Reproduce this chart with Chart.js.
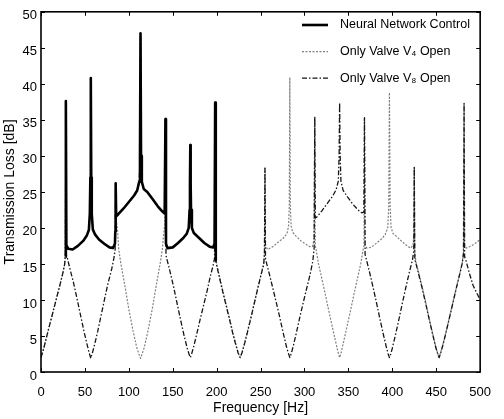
<!DOCTYPE html>
<html>
<head>
<meta charset="utf-8">
<script src="https://cdn.jsdelivr.net/npm/chart.js@4.4.0/dist/chart.umd.min.js"></script>
<style>
  html, body { margin: 0; padding: 0; background: #fff; }
  #wrap { position: relative; width: 504px; height: 419px; }
</style>
</head>
<body>
<div id="wrap"><canvas id="tlChart"></canvas></div>
<script>
// values (frequency in Hz, transmission loss in dB)
const freqTicks = [0, 50, 100, 150, 200, 250, 300, 350, 400, 450, 500];
const tlTicks = [0, 5, 10, 15, 20, 25, 30, 35, 40, 45, 50];

const nnFreq = [28, 28.3, 28.9, 31, 36, 42, 48, 52, 54.5, 55.6, 56.2, 56.7, 57.2, 57.8, 59, 61.5, 66, 72, 78, 82, 84.2, 84.6,
  85, 85.6, 88, 94, 100, 106, 109.5, 111.8, 112.7, 113.3, 113.9, 114.8, 117, 121, 127, 133, 138, 140.8,
  141.7, 142.3, 144, 150, 156, 162, 166, 168.2, 169.2, 169.6, 170, 170.4, 170.8, 171.8, 174, 180, 186, 192, 196, 197.6,
  198.3, 199];
const nnTL = [16.0, 37.6, 17.6, 17.1, 17.0, 17.5, 18.2, 18.9, 19.7, 22, 27, 40.8, 27, 22, 19.8, 19.1, 18.4, 17.8, 17.3, 17.2, 17.8, 19.5,
  26.2, 21.6, 21.9, 22.7, 23.6, 24.5, 25.2, 26.4, 30, 47, 30, 26.4, 25.4, 25, 24, 23, 22.3, 22,
  35.1, 17.8, 17.2, 17.3, 17.9, 18.6, 19.2, 20, 22.5, 26, 31.5, 26, 22.5, 20, 19.3, 18.6, 17.9, 17.4, 17.3, 17.8,
  37.4, 15.5];

const v4Freq = [0, 2, 4, 7, 10, 14, 18, 22, 25, 27, 27.8, 28.3, 28.9, 31, 36, 42, 48, 52, 54.5, 55.6, 56.2, 56.7, 57.2, 57.8,
  59, 61.5, 66, 72, 78, 82, 84.2, 84.6, 85, 85.6, 87, 88.5, 91, 95, 100, 105, 109, 111.5, 113.3, 115.1, 117.6, 121.6,
  126.6, 131.6, 135.6, 138.1, 139.6, 141, 141.7, 142.3, 144, 150, 156, 162, 166, 168.2, 169.2, 169.6, 170, 170.4, 170.8,
  171.8, 174, 180, 186, 192, 196, 197.6, 198.3, 199, 200, 203, 207, 211, 215, 219, 222, 224.5, 226.7, 229, 231.5, 235,
  239, 243, 247, 251, 253.5, 254.4, 255, 255.6, 258, 264, 270, 276, 280, 281.8, 282.7, 283.3, 283.9, 284.8, 286.6, 290,
  296, 302, 306, 309, 310.8, 311.7, 312.3, 313.5, 316, 320, 324, 328, 332, 336, 338.3, 340, 341.7, 344, 348, 352, 356,
  360, 364, 366.5, 367.7, 368.3, 369, 371, 376, 382, 388, 392, 394.8, 395.9, 396.7, 397.5, 398.6, 401, 405, 411, 417,
  421, 423.6, 424.4, 425, 425.6, 427, 430, 434, 438, 442, 446, 449.5, 451.7, 453.3, 455, 457.5, 461, 465, 469, 473, 477,
  479.8, 481, 481.7, 482.3, 484, 490, 496, 500];
const v4TL = [2.0, 2.8, 3.7, 5.2, 6.6, 8.5, 10.4, 12.3, 13.8, 15.0, 16.5, 37.6, 17.6, 17.1, 17.0, 17.5, 18.2, 18.9, 19.7, 22, 27, 40.8, 27, 22,
  19.8, 19.1, 18.4, 17.8, 17.3, 17.2, 17.8, 19.5, 26.2, 21, 20, 17, 15, 12.3, 8.7, 5.6, 3.4, 2.5, 1.9, 2.5, 3.4, 5.6,
  8.7, 12.3, 15, 17, 19, 20.5, 35.1, 17.8, 17.2, 17.3, 17.9, 18.6, 19.2, 20, 22.5, 26, 31.5, 26, 22.5,
  20, 19.3, 18.6, 17.9, 17.4, 17.3, 17.8, 37.4, 16, 15, 13.4, 11.3, 9.3, 7.3, 5.2, 3.8, 2.7, 2.0, 2.8, 3.9, 5.6,
  7.6, 9.7, 11.8, 13.8, 15, 16.5, 28.3, 17.6, 17.0, 17.4, 18, 18.6, 19.2, 20.2, 23, 40.9, 23, 20.2, 19.4, 18.9,
  18.2, 17.7, 17.4, 17.4, 18.3, 35.4, 17.5, 16.8, 15, 12.8, 10.6, 8.3, 6.1, 3.9, 2.7, 2.0, 2.7, 3.9, 6.1, 8.3, 10.6,
  12.8, 15, 16.8, 17.5, 35.3, 17.6, 17.2, 17.3, 17.9, 18.5, 19.1, 20, 23, 38.8, 23, 20, 19.2, 18.8, 18.1, 17.5,
  17.2, 17.6, 19, 28.4, 16.5, 15.2, 13.8, 11.8, 9.7, 7.4, 5.3, 3.5, 2.6, 2.0, 2.7, 3.8, 5.5, 7.6, 9.7, 11.8, 13.8,
  15.3, 16.6, 37.3, 17.6, 17.2, 17.5, 18.0, 18.4];

const v8Freq = [0, 2, 4, 7, 10, 14, 18, 22, 25, 27, 27.8, 28.3, 28.9, 30, 33, 37, 41, 45, 49, 52.5, 55, 56.7, 58.4, 61, 64.5,
  68.5, 72.5, 76.5, 80.5, 83, 84.4, 85, 85.6, 88, 94, 100, 106, 109.5, 111.8, 112.7, 113.3, 113.9, 114.8, 117, 121, 127,
  133, 138, 140.8, 141.7, 142.3, 143.5, 147, 151, 155, 159, 163, 166.5, 168.5, 170, 171.7, 174, 177, 181, 185, 189, 193,
  196, 197.6, 198.3, 199, 200, 203, 207, 211, 215, 219, 222, 224.5, 226.7, 229, 231.5, 235, 239, 243, 247, 251, 253.5,
  254.4, 255, 255.6, 257, 260, 264, 268, 272, 276, 279.5, 281.7, 283.3, 285, 287, 290.5, 294.5, 298.5, 302.5, 306.5,
  309.5, 311, 311.7, 312.3, 314, 320, 326, 332, 336, 338.5, 339.4, 340, 340.6, 341.5, 344, 349, 355, 361, 365, 367.6,
  368.3, 369, 370.5, 374, 378, 382, 386, 390, 393.5, 395.3, 396.7, 398.2, 400, 403.5, 407.5, 411.5, 415.5, 419.5, 423,
  424.4, 425, 425.6, 427, 430, 434, 438, 442, 446, 449.5, 451.7, 453.3, 455, 457.5, 461, 465, 469, 473, 477, 479.8, 481,
  481.7, 482.3, 484, 488, 492, 496, 500];
const v8TL = [2.0, 2.8, 3.7, 5.2, 6.6, 8.5, 10.4, 12.3, 13.8, 15.0, 16.5, 37.6, 16.2, 15.8, 14.3, 12.4, 10.2, 7.9, 5.6, 3.8, 2.6, 1.9, 2.6, 3.8, 5.6,
  7.9, 10.2, 12.4, 14.3, 15.8, 17, 26.2, 21.6, 21.9, 22.7, 23.6, 24.5, 25.2, 26.4, 30, 47, 30, 26.4, 25.4, 25, 24,
  23, 22.3, 22, 35.1, 16.2, 15.6, 13.9, 11.8, 9.5, 7.2, 5, 3.3, 2.5, 2.0, 2.6, 3.6, 5.1, 7.2, 9.2, 11.2, 13.4,
  14.8, 15.8, 37.4, 15.5, 14.8, 13.2, 11.1, 9.1, 7.1, 5.0, 3.7, 2.6, 2.0, 2.7, 3.8, 5.5, 7.5, 9.6, 11.7, 13.7, 14.9,
  16.3, 28.3, 15.8, 15, 13.6, 11.6, 9.6, 7.5, 5.3, 3.5, 2.6, 2.0, 2.6, 3.5, 5.3, 7.5, 9.6, 11.6, 13.6,
  15.4, 17.2, 35.4, 21.4, 21.5, 22.4, 23.4, 24.4, 25.3, 26.5, 30, 37.4, 30, 26.5, 25.2, 24.3, 23.3, 22.5, 22.1, 22.2,
  35.3, 16.3, 15.6, 13.9, 11.8, 9.6, 7.3, 5.1, 3.3, 2.5, 2.0, 2.5, 3.3, 5.1, 7.3, 9.6, 11.8, 13.9, 15.6,
  16.8, 28.4, 15.6, 15, 13.6, 11.6, 9.5, 7.3, 5.2, 3.4, 2.5, 2.0, 2.6, 3.7, 5.4, 7.5, 9.6, 11.7, 13.7, 15.2, 16.4,
  37.3, 16, 15.4, 13.6, 12.0, 11.0, 10.0];

const toPoints = (xs, ys) => xs.map((x, i) => ({ x: x, y: ys[i] }));

Chart.defaults.font.family = "'Liberation Sans', Arial, sans-serif";
Chart.defaults.font.size = 13;
Chart.defaults.color = '#000';

// inward ticks on all four sides plus the box, like the original figure
const boxTicks = {
  id: 'boxTicks',
  afterDraw(chart) {
    const { ctx, chartArea: a, scales: { x, y } } = chart;
    ctx.save();
    ctx.strokeStyle = '#000';
    ctx.lineWidth = 1;
    ctx.beginPath();
    freqTicks.forEach(v => {
      const px = Math.round(x.getPixelForValue(v)) + 0.5;
      ctx.moveTo(px, a.bottom); ctx.lineTo(px, a.bottom - 4);
      ctx.moveTo(px, a.top); ctx.lineTo(px, a.top + 4);
    });
    tlTicks.forEach(v => {
      const py = Math.round(y.getPixelForValue(v)) + 0.5;
      ctx.moveTo(a.left, py); ctx.lineTo(a.left + 4, py);
      ctx.moveTo(a.right, py); ctx.lineTo(a.right - 4, py);
    });
    ctx.stroke();
    ctx.lineWidth = 1.6;
    ctx.strokeRect(a.left, a.top, a.right - a.left, a.bottom - a.top);
    ctx.restore();
  }
};

// legend drawn inside the axes, top right, no frame
const insideLegend = {
  id: 'insideLegend',
  afterDraw(chart) {
    const { ctx } = chart;
    ctx.save();
    ctx.font = "12.5px 'Liberation Sans', Arial, sans-serif";
    ctx.textBaseline = 'middle';
    ctx.fillStyle = '#000';
    chart.data.datasets.forEach((ds, i) => {
      const yy = 25 + i * 26.6;
      ctx.strokeStyle = ds.borderColor;
      ctx.lineWidth = ds.borderWidth;
      ctx.setLineDash(ds.borderDash || []);
      ctx.beginPath();
      ctx.moveTo(302, yy);
      ctx.lineTo(328, yy);
      ctx.stroke();
      ctx.setLineDash([]);
      ctx.fillText(ds.label, 340, yy);
    });
    ctx.restore();
  }
};

new Chart(document.getElementById('tlChart'), {
  type: 'line',
  data: {
    datasets: [
      {
        label: 'Neural Network Control',
        data: toPoints(nnFreq, nnTL),
        borderColor: '#000',
        borderWidth: 2.6,
        borderJoinStyle: 'round',
        pointRadius: 0,
        order: 0
      },
      {
        label: 'Only Valve V\u2084 Open',
        data: toPoints(v4Freq, v4TL),
        borderColor: '#808080',
        borderWidth: 1.2,
        borderDash: [2, 1.5],
        borderJoinStyle: 'round',
        pointRadius: 0,
        order: 2
      },
      {
        label: 'Only Valve V\u2088 Open',
        data: toPoints(v8Freq, v8TL),
        borderColor: '#151515',
        borderWidth: 1.3,
        borderDash: [5, 2, 1.5, 2],
        borderJoinStyle: 'round',
        pointRadius: 0,
        order: 1
      }
    ]
  },
  options: {
    responsive: true,
    maintainAspectRatio: false,
    animation: false,
    layout: { padding: { left: 0, right: 13, top: 9, bottom: 0 } },
    scales: {
      x: {
        type: 'linear',
        min: 0,
        max: 500,
        afterBuildTicks: scale => { scale.ticks = freqTicks.map(v => ({ value: v })); },
        afterFit: scale => { scale.height = 47; },
        grid: { display: false, drawTicks: false },
        border: { display: false },
        ticks: { padding: 13, maxRotation: 0, autoSkip: false },
        title: { display: true, text: 'Frequency [Hz]', font: { size: 14 }, padding: { top: 0, bottom: 2 } }
      },
      y: {
        min: 0,
        max: 50,
        afterBuildTicks: scale => { scale.ticks = tlTicks.map(v => ({ value: v })); },
        afterFit: scale => { scale.width = 41; },
        grid: { display: false, drawTicks: false },
        border: { display: false },
        ticks: { padding: 4, labelOffset: 4, autoSkip: false },
        title: { display: true, text: 'Transmission Loss [dB]', font: { size: 14 }, padding: { top: 2, bottom: 0 } }
      }
    },
    plugins: {
      legend: { display: false },
      tooltip: { enabled: false }
    }
  },
  plugins: [boxTicks, insideLegend]
});
</script>
</body>
</html>
